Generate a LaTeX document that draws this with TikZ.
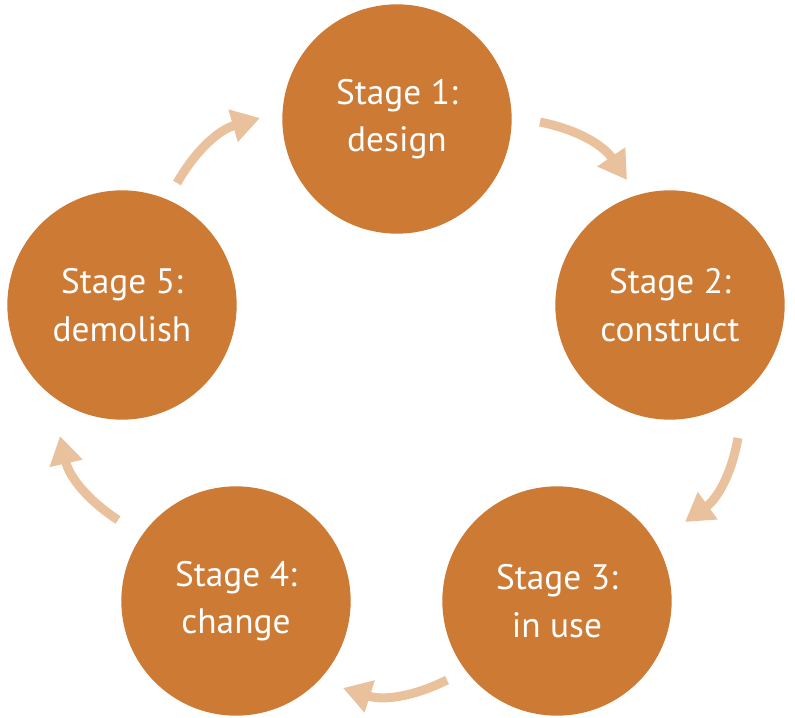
\documentclass[tikz,border=0pt]{standalone}
\usepackage{fontspec}
\setmainfont{PT Sans}
\usetikzlibrary{arrows.meta}
\definecolor{stageorange}{HTML}{CD7A35}
\definecolor{arrowpeach}{HTML}{E9C19D}
\begin{document}
\begin{tikzpicture}[x=0.75pt,y=-0.75pt,
  stage/.style={circle,fill=stageorange,minimum size=172pt,inner sep=0pt,
    text=white,font=\fontsize{26.5}{35.5}\selectfont,align=center},
  cyclearrow/.style={draw=arrowpeach,line width=6.75pt,
    -{Triangle[length=21pt,width=24pt]}}]
\useasboundingbox (0,0) rectangle (795,717);
\node[stage] (s1) at (397,119) {Stage 1:\\design};
\node[stage] (s2) at (670,305) {Stage 2:\\construct};
\node[stage] (s3) at (557,601) {Stage 3:\\in use};
\node[stage] (s4) at (236,601) {Stage 4:\\change};
\node[stage] (s5) at (122,305) {Stage 5:\\demolish};
\coordinate (a1s) at (540,122);
\coordinate (a1e) at (627,180);
\coordinate (a2s) at (738,438);
\coordinate (a2e) at (685,522);
\coordinate (a3s) at (447,680);
\coordinate (a3e) at (343,688);
\coordinate (a4s) at (118,520);
\coordinate (a4e) at (60,436);
\coordinate (a5s) at (177,183);
\coordinate (a5e) at (260,118);
\draw[cyclearrow] (a1s) to[bend left=22] (a1e);
\draw[cyclearrow] (a2s) to[bend left=22] (a2e);
\draw[cyclearrow] (a3s) to[bend left=22] (a3e);
\draw[cyclearrow] (a4s) to[bend left=22] (a4e);
\draw[cyclearrow] (a5s) to[bend left=22] (a5e);
\end{tikzpicture}
\end{document}
